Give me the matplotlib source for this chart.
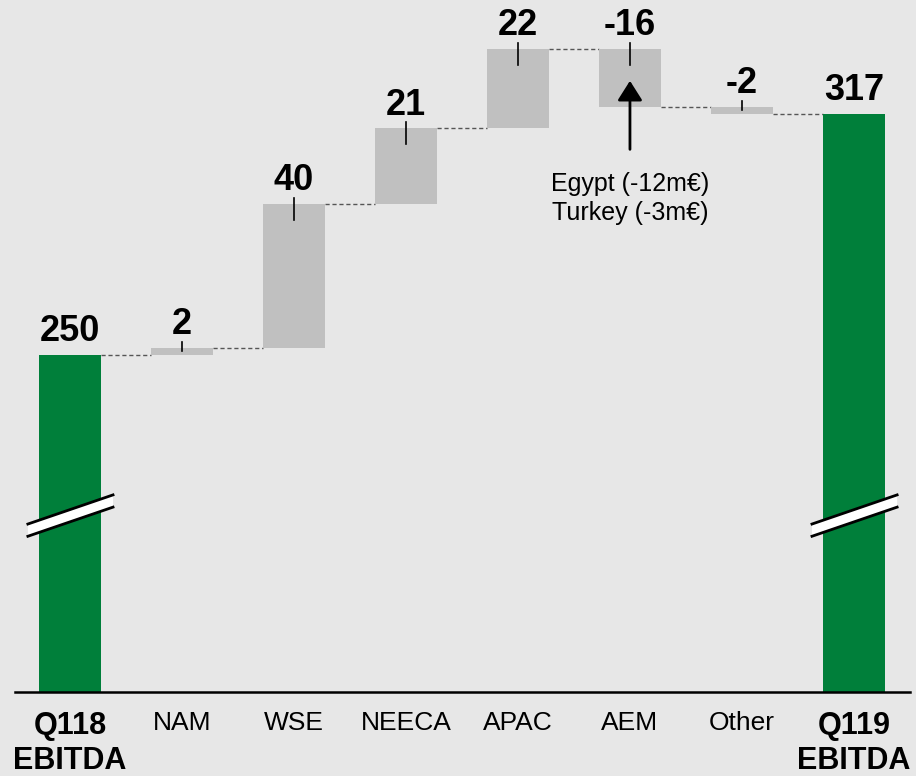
''' Q1 EBITDA bridge (waterfall) '''
import matplotlib.pyplot as plt
from matplotlib.patches import Polygon

plt.rcParams['font.family'] = ['Liberation Sans', 'DejaVu Sans']

# Data
categories = ['Q118\nEBITDA', 'NAM', 'WSE', 'NEECA', 'APAC', 'AEM', 'Other', 'Q119\nEBITDA']
start_total = 250
deltas = [2, 40, 21, 22, -16, -2]
end_total = 317
note_text = 'Egypt (-12m€)\nTurkey (-3m€)'

green = '#007f3a'
grey = '#c0c0c0'
bg = '#e7e7e7'

# Bar spans for the waterfall
bottoms, tops, labels = [0], [start_total], [str(start_total)]
level = start_total
for d in deltas:
    new = level + d
    bottoms.append(min(level, new))
    tops.append(max(level, new))
    labels.append(str(d))
    level = new
bottoms.append(0)
tops.append(end_total)
labels.append(str(end_total))
heights = [t - b for t, b in zip(tops, bottoms)]
colors = [green] + [grey] * len(deltas) + [green]
x = list(range(len(categories)))
width = 0.55

fig = plt.figure(figsize=(9.16, 7.76), dpi=100, facecolor=bg)
ax = fig.add_axes([15 / 916, 84 / 776, 895 / 916, 692 / 776])
ax.set_facecolor(bg)
ax.set_xlim(-0.49, 7.5)
ax.set_ylim(156.3, 348.7)

ax.bar(x, heights, bottom=bottoms, width=width, color=colors, zorder=2)

# Connector lines between bars
levels = [start_total]
for d in deltas:
    levels.append(levels[-1] + d)
for i, lv in enumerate(levels):
    ax.plot([x[i] + width / 2, x[i + 1] - width / 2], [lv, lv], color='#555555',
            lw=1, dashes=(3, 2), zorder=1)

# Value labels (above the upper edge of each bar)
for i in x:
    ax.annotate(labels[i], xy=(x[i], tops[i]), xytext=(0, 10), textcoords='offset points',
                ha='center', va='baseline', fontsize=26, fontweight='bold')
    if 0 < i < len(x) - 1:
        ax.plot([x[i], x[i]], [tops[i] + 1.7, tops[i] - min(4.4, heights[i] / 2)],
                color='black', lw=1.2, zorder=3)

# Axis break marks on the total bars
brk = 203
for i in (0, len(x) - 1):
    x0, x1 = x[i] - 0.375, x[i] + 0.385
    y0, y1 = brk - 3.4, brk + 3.2
    poly = Polygon([[x0, y0], [x1, y1 + 1.5], [x1, y1 + 1.5 + 3.4], [x0, y0 + 3.4]],
                   closed=True, facecolor='white', edgecolor='none', zorder=4)
    ax.add_patch(poly)
    ax.plot([x0, x1], [y0, y1 + 1.5], color='black', lw=2, zorder=5)
    ax.plot([x0, x1], [y0 + 3.4, y1 + 4.9], color='black', lw=2, zorder=5)

# Note on AEM
ax.annotate('', xy=(5, 327), xytext=(5, 306.4),
            arrowprops=dict(arrowstyle='-|>,head_length=0.6,head_width=0.38',
                            mutation_scale=20, color='black', lw=2), zorder=6)
ax.text(5, 293.6, note_text, ha='center', va='center', fontsize=18, linespacing=1.25)

# Axes styling
for pos in ['top', 'right', 'left']:
    ax.spines[pos].set_visible(False)
ax.spines['bottom'].set_linewidth(1.8)
ax.set_yticks([])
ax.set_xticks(x)
ax.set_xticklabels(categories)
ax.tick_params(axis='x', length=0, pad=14)
for i, lab in enumerate(ax.get_xticklabels()):
    lab.set_multialignment('center')
    if i in (0, len(x) - 1):
        lab.set_fontsize(22)
        lab.set_fontweight('bold')
        lab.set_linespacing(1.2)
    else:
        lab.set_fontsize(19)

fig.savefig('out.png', dpi=100, facecolor=bg)
